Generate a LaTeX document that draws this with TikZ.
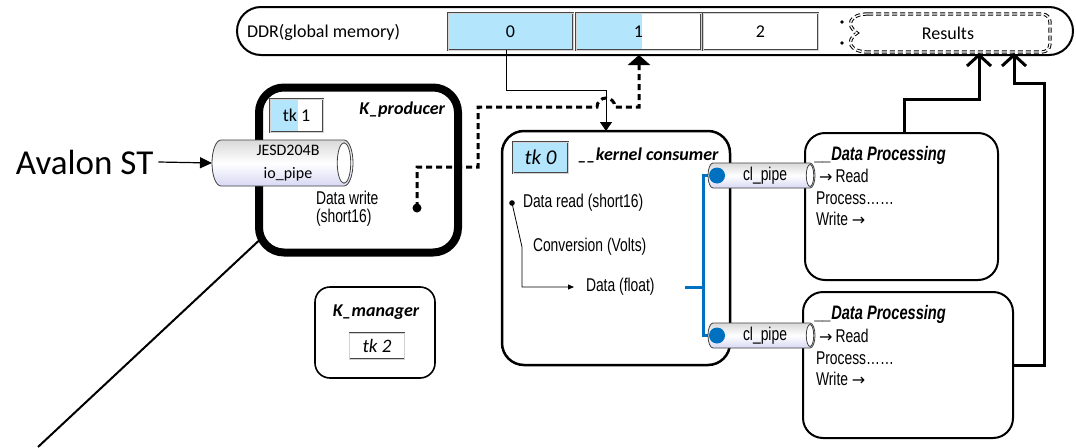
\documentclass[tikz,border=0pt]{standalone}
\usepackage{fontspec}
\setmainfont{Carlito}
\newfontfamily\calfont{Carlito}
\newfontfamily\arnfont[FakeStretch=0.75]{Liberation Sans}
\newfontfamily\arwfont{DejaVu Sans}
\newcommand\rarw{{\arwfont\fontsize{16}{18}\selectfont →}}
\usetikzlibrary{arrows.meta}
\definecolor{lblue}{RGB}{179,229,252}
\definecolor{pblue}{RGB}{0,112,192}
\newcommand\mypipe[7]{%
  \path[pipeshade] ({#1+#5},#3) -- ({#2-#5},#3)
    arc[start angle=90,end angle=-90,x radius=#5pt,y radius=#6pt]
    -- ({#1+#5},#4)
    arc[start angle=270,end angle=90,x radius=#5pt,y radius=#6pt] -- cycle;
  \draw[draw=gray!50!black, fill=white, line width=0.8pt] ({#2-#5},#7) ellipse[x radius={0.75*#5pt}, y radius={0.88*#6pt}];
}
\begin{document}
\begin{tikzpicture}[x=1pt,y=-1pt,
  every node/.style={inner sep=0pt, outer sep=0pt},
  cal/.style={font=\calfont\fontsize{18}{21}\selectfont},
  calbi/.style={font=\calfont\bfseries\itshape\fontsize{18}{21}\selectfont},
  arn/.style={font=\arnfont\fontsize{18.5}{20}\selectfont},
  arnbi/.style={font=\arnfont\bfseries\itshape\fontsize{19.5}{20}\selectfont},
  tkbox/.style={draw=gray!55!black, double=gray!35, double distance=0.7pt, line width=0.6pt},
  cellbox/.style={tkbox, minimum height=37pt, minimum width=125pt},
  dpbox/.style={draw, fill=white, line width=2pt, rounded corners=20pt},
  pipeshade/.style={top color=gray!30, bottom color=gray!45!blue!20, middle color=white, draw=gray!50!black, line width=0.8pt},
  resarrow/.style={line width=3pt, -{Straight Barb[length=11pt,width=24pt]}},
  dashlink/.style={line width=3pt, dash pattern=on 6pt off 4pt},
  resdot/.style={draw=black, double=white, double distance=1.3pt, line width=1pt, dash pattern=on 5pt off 3pt},
  bline/.style={pblue, line width=3pt},
]
\fill[white] (0,0) rectangle (1076,447);
\useasboundingbox (0,0) rectangle (1076,447);

% DDR
\node[draw, line width=2pt, rounded corners=24pt, minimum width=836pt, minimum height=48pt, anchor=north west] (ddr) at (237,7) {};
\node[cal, anchor=west] (ddrl) at (247,32) {DDR(global memory)};
\fill[lblue] (575,13) rectangle (642,50);
\node[cellbox, fill=lblue, cal] (c0) at (510.5,31.5) {0};
\node[cellbox, cal] (c1) at (638.5,31.5) {1};
\node[cellbox, cal, minimum width=115pt] (c2) at (760.5,31.5) {2};

% Results
\draw[resdot, rounded corners=8pt] (868,14) -- (1050,14) -- (1050,52) -- (868,52);
\draw[resdot] (868,14) .. controls (850,14) and (845,25) .. (857,33) .. controls (845,41) and (850,52) .. (868,52);
\fill (842,22) circle (1.8pt) (842,43) circle (1.8pt);
\node[cal] (res) at (948,33) {Results};

% K_producer
\node[draw, fill=white, line width=8pt, rounded corners=25pt, minimum width=199pt, minimum height=165pt, anchor=north west] (kp) at (259,87.5) {};
\coordinate (diagend) at (38,447);
\draw[line width=2pt] ([yshift=12pt]kp.south west) -- (diagend);
\fill[lblue] (270,99) rectangle (298,132);
\node[tkbox, cal, minimum width=53pt, minimum height=33pt, anchor=north west] (tk1) at (270,99) {tk 1};
\node[calbi, anchor=east] (kpl) at (445,110) {K\_producer};

% K_manager
\node[draw, fill=white, line width=1.6pt, rounded corners=15pt, minimum width=120pt, minimum height=91pt, anchor=north west] (km) at (315,287) {};
\node[calbi] (kml) at (376,312) {K\_manager};
\node[tkbox, font=\calfont\itshape\fontsize{19}{21}\selectfont, minimum width=55pt, minimum height=26pt] (tk2) at (377,346) {tk 2};

% kernel consumer
\node[draw, fill=white, line width=2.5pt, rounded corners=22pt, minimum width=228pt, minimum height=234pt, anchor=north west] (kc) at (502,131) {};
\node[tkbox, fill=lblue, minimum width=55pt, minimum height=31pt, anchor=north west, font=\calfont\itshape\fontsize{21}{22}\selectfont] (tk0) at (513,142) {tk 0};
\node[calbi, anchor=west] (kcl) at (578,155) {\_\_kernel consumer};
\coordinate (drd) at (512,203);
\fill (drd) circle (2.8pt);
\node[arn, anchor=west] (dr) at (523,203) {Data read (short16)};
\node[arn, anchor=west] (cv) at (533,247) {Conversion (Volts)};
\node[arn, anchor=west] (df) at (586,287) {Data (float)};
\coordinate (bend) at (522,247);
\draw[line width=0.8pt, -{Triangle[length=6pt,width=5pt]}] (drd) -- (bend) |- ([xshift=-12pt]df.west);

% Data processing boxes
\node[dpbox, minimum width=193pt, minimum height=147pt, anchor=north west] (dp1) at (805,133) {};
\node[dpbox, minimum width=210pt, minimum height=146pt, anchor=north west] (dp2) at (803,292) {};
\node[arnbi, anchor=west] (dp1t) at (815,155) {\_\_Data Processing};
\node[arn, anchor=west] (dp1r) at (819,176) {\rarw\,Read};
\node[arn, anchor=west] (dp1p) at (816,198) {Process……};
\node[arn, anchor=west] (dp1w) at (816,219) {Write \rarw};
\node[arnbi, anchor=west] (dp2t) at (815,314) {\_\_Data Processing};
\node[arn, anchor=west] (dp2r) at (819,336) {\rarw\,Read};
\node[arn, anchor=west] (dp2p) at (816,358) {Process……};
\node[arn, anchor=west] (dp2w) at (816,379) {Write \rarw};

% blue links
\coordinate (bs) at (685,287);
\coordinate (bj) at (703,287);
\coordinate (bd1) at (717,175.5);
\coordinate (bd2) at (717,335.5);
\draw[bline] (bs) -- (bj);
\draw[bline] (bd1) -| (bj) |- (bd2);

% cl pipes
\mypipe{708}{815}{163}{188}{5}{12.5}{175.5}
\mypipe{708}{815}{323}{348}{5}{12.5}{335.5}
\node[arn] (cl1) at (765,176) {cl\_pipe};
\node[arn] (cl2) at (765,336) {cl\_pipe};
\fill[pblue] (bd1) circle (8pt);
\fill[pblue] (bd2) circle (8pt);

% JESD pipe
\mypipe{212}{353}{140}{186}{9}{23}{163}
\node[minimum width=141pt, minimum height=46pt] (jesd) at (282.5,163) {};
\node[font=\calfont\fontsize{16}{23}\selectfont, align=center] (jesdt) at (288,163.5) {JESD204B\\io\_pipe};
\node[font=\calfont\fontsize{35}{40}\selectfont, anchor=west] (av) at (16,162) {Avalon ST};
\draw[line width=1.2pt, -{Triangle[length=12pt,width=11pt]}] ([xshift=5pt]av.east) -- (jesd.west);

% Data write
\node[arn, anchor=west] (dw1) at (316,198) {Data write};
\node[arn, anchor=west] (dw2) at (316,218) {(short16)};

% thin link from cell 0 to consumer
\coordinate (t1) at (606,90);
\draw[line width=1pt, -{Triangle[length=9pt,width=12pt]}] ([xshift=-4.5pt]c0.south) |- (t1) -- (t1 |- kc.north);

% dashed link producer -> DDR
\coordinate (dwd) at (417,208);
\fill (dwd) circle (4.5pt);
\coordinate (p1) at (417,167);
\coordinate (p2) at (478,167);
\coordinate (p3) at (478,107);
\coordinate (h1) at (597,107);
\coordinate (p4) at (639,107);
\draw[dashlink, -{Triangle[length=10pt,width=22pt]}] (dwd) -- (p1) -- (p2) -- (p3) -- (h1) arc[start angle=180,end angle=0,radius=9pt] -- (p4) -- (p4 |- ddr.south);

% arrows to Results
\coordinate (a1) at (979,53);
\coordinate (a1b) at (979,99);
\draw[resarrow] ([xshift=2.5pt]dp1.north) |- (a1b) -- (a1);
\coordinate (a2) at (1014,53);
\coordinate (a2b) at (1044,83);
\draw[resarrow] (dp2.east) -| (a2b) -| (a2);
\end{tikzpicture}
\end{document}
